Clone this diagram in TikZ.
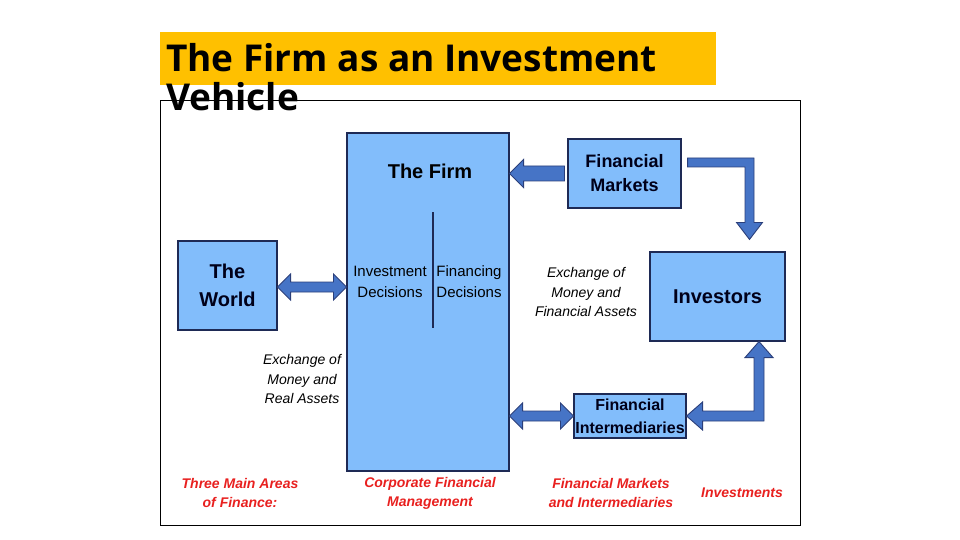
\documentclass[tikz,border=0pt]{standalone}
\usepackage{fontspec}
\setmainfont{Liberation Sans}
\newfontfamily\titlefont{Open Sans}
\usetikzlibrary{calc,positioning}
\definecolor{boxblue}{HTML}{82BDFB}
\definecolor{boxline}{HTML}{1E2A55}
\definecolor{arrowblue}{HTML}{4674C6}
\definecolor{arrowline}{HTML}{2B3F7A}
\definecolor{areared}{HTML}{E8201F}
\definecolor{titlebar}{HTML}{FFC000}
% horizontal double block arrow from tip #1 (left) to tip #2 (right)
\newcommand{\dblarrow}[2]{%
  \draw[blockarr] (#1) -- ++(13,-13) -- ++(0,8) -- ($(#2)+(-13,-5)$) -- ++(0,-8) -- (#2)
    -- ++(-13,13) -- ++(0,-8) -- ($(#1)+(13,5)$) -- ++(0,8) -- cycle;}

\begin{document}
\begin{tikzpicture}[
  x=1pt, y=-1pt,
  box/.style={draw=boxline,fill=boxblue,line width=1.1pt,align=center,inner sep=0pt,text=black!90!blue},
  blockarr/.style={draw=arrowline,fill=arrowblue,line width=0.9pt,line join=miter},
  exch/.style={align=center,font=\fontsize{14}{19.5}\selectfont\itshape},
  area/.style={align=center,text=areared,font=\fontsize{14}{19}\selectfont\bfseries\itshape}
]
\useasboundingbox (0,0) rectangle (960,540);
\fill[titlebar] (160,32) rectangle (716,85);
\draw[line width=1pt] (160,101) rectangle (800,525);
\node[anchor=north west,align=left,inner sep=0pt,font=\titlefont\fontsize{37}{39}\selectfont\bfseries] (title) at (166,43)
  {The Firm as an Investment\\Vehicle};

\node[box,minimum width=162pt,minimum height=338pt] (firm) at (428,302) {};
\node[font=\fontsize{20}{24}\selectfont\bfseries] (firmname) at (430,171) {The Firm};
\node[align=center,font=\fontsize{15}{21}\selectfont] (invdec) at (390,282) {Investment\\Decisions};
\node[align=center,font=\fontsize{15}{21}\selectfont] (findec) at (469,282) {Financing\\Decisions};
\draw[boxline,line width=1.2pt] (433,212) -- (433,328);

\node[box,minimum width=99pt,minimum height=89pt,font=\fontsize{20}{28}\selectfont\bfseries] (world) at (227.5,285.5) {The\\World};
\node[box,minimum width=113pt,minimum height=69pt,font=\fontsize{18}{24}\selectfont\bfseries] (fm) at (624.5,173.5) {Financial\\Markets};
\node[box,minimum width=135pt,minimum height=89pt,font=\fontsize{20}{24}\selectfont\bfseries] (inv) at (717.5,296.5) {Investors};
\node[box,minimum width=112pt,minimum height=44pt,font=\fontsize{16}{23}\selectfont\bfseries] (fi) at (630,416) {Financial\\Intermediaries};

\node[exch] (realx) at (302,379) {Exchange of\\Money and\\Real Assets};
\node[exch] (finx) at (586,292) {Exchange of\\Money and\\Financial Assets};

\node[area] (areas) at (240,493) {Three Main Areas\\of Finance:};
\node[area] (corp) at (430,493) {Corporate Financial\\Management};
\node[area] (mkts) at (611,493) {Financial Markets\\and Intermediaries};
\node[area] (invest) at (742,493) {Investments};

\coordinate (wrt) at ($(world.east)+(0,1.5)$);
\coordinate (frl) at (firm.west |- wrt);
\coordinate (fmtip) at (firm.east |- fm.west);
\coordinate (filt) at (firm.east |- fi.west);
\coordinate (a1) at ($(fm.east)+(6,-11)$);
\coordinate (a2) at ($(inv.north)+(32,-12)$);
\coordinate (b1) at (fi.east);
\coordinate (b2) at ($(inv.south)+(41.5,0)$);

\dblarrow{wrt}{frl}
\dblarrow{filt}{fi.west}
\draw[blockarr] (fmtip) -- ++(14,-14) -- ++(0,6.5) -- ($(fm.west)+(-3,-7.5)$) -- ++(0,15)
  -- ($(fmtip)+(14,7.5)$) -- ++(0,6.5) -- cycle;
\draw[blockarr] ($(a1)+(0,-4.5)$) -- ($(a2|-a1)+(4.5,-4.5)$) -- ($(a2)+(4.5,-17)$) -- ($(a2)+(13,-17)$)
  -- (a2) -- ($(a2)+(-13,-17)$) -- ($(a2)+(-4.5,-17)$) -- ($(a2|-a1)+(-4.5,4.5)$) -- ($(a1)+(0,4.5)$) -- cycle;
\draw[blockarr] (b1) -- ($(b1)+(16,-14)$) -- ($(b1)+(16,-5)$) -- ($(b2|-b1)+(-5,-5)$) -- ($(b2)+(-5,16)$)
  -- ($(b2)+(-14,16)$) -- (b2) -- ($(b2)+(14,16)$) -- ($(b2)+(5,16)$) -- ($(b2|-b1)+(5,5)$)
  -- ($(b1)+(16,5)$) -- ($(b1)+(16,14)$) -- cycle;
\end{tikzpicture}
\end{document}
